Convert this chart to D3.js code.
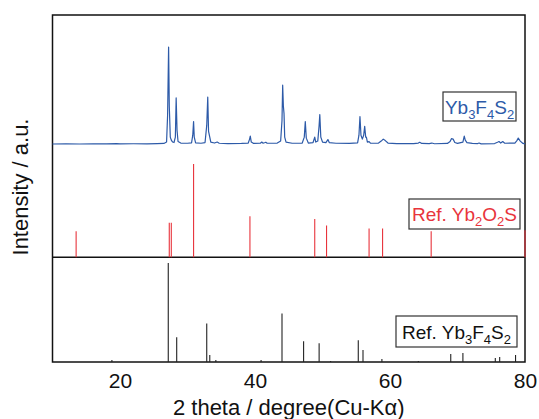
<!DOCTYPE html>
<html>
<head>
<meta charset="utf-8">
<script src="https://cdn.jsdelivr.net/npm/d3@7"></script>
<style>
    body { margin: 0; background: #fff; }
    svg { display: block; font-family: "Liberation Sans", Arial, sans-serif; }
</style>
</head>
<body>
<div id="chart"></div>
<script>
// measured pattern, [2theta, relative intensity]
const yb3f4s2Obs = [
    [10.0, 1.0], [12.0, 1.2], [14.0, 1.0], [16.0, 1.3], [18.0, 1.1], [19.5, 1.5], [20.0, 1.1],
    [22.0, 1.3], [24.0, 1.2], [25.5, 1.4], [26.5, 1.6], [26.9, 3], [27.05, 30], [27.2, 100],
    [27.3, 40], [27.45, 8], [27.6, 5], [27.8, 3], [28.0, 2.5], [28.2, 8], [28.32, 48], [28.45, 15],
    [28.6, 3.5], [29.0, 2], [30.0, 1.8], [30.6, 2.2], [30.78, 10], [30.9, 24], [31.0, 8], [31.2, 2.2],
    [32.0, 1.8], [32.6, 2.5], [32.85, 20], [33.0, 49], [33.12, 14], [33.3, 8], [33.45, 3], [34.0, 2],
    [34.4, 3], [34.7, 1.8], [36.0, 1.5], [38.0, 1.6], [39.0, 2], [39.2, 6], [39.3, 9], [39.45, 3],
    [39.8, 1.6], [40.8, 1.8], [41.0, 3], [41.2, 1.8], [41.5, 2.5], [41.6, 2.8], [41.8, 1.8],
    [43.3, 2], [43.8, 4], [44.0, 25], [44.1, 61], [44.2, 40], [44.3, 32], [44.4, 8], [44.6, 3],
    [45.5, 1.8], [47.0, 2], [47.3, 8], [47.45, 24], [47.6, 7], [47.9, 2], [48.6, 2.5], [48.85, 8],
    [49.0, 3], [49.3, 4], [49.5, 20], [49.6, 31], [49.75, 8], [50.0, 3], [50.5, 2.5], [50.8, 5.5],
    [51.0, 2.5], [52.0, 1.8], [54.0, 1.6], [55.2, 2.2], [55.4, 10], [55.55, 29], [55.7, 10],
    [55.9, 6], [56.1, 10], [56.25, 19], [56.4, 8], [56.5, 8], [56.65, 3], [56.9, 3.5], [57.1, 1.8],
    [58.3, 2], [58.7, 4], [59.0, 6], [59.3, 4.5], [59.7, 2], [61.0, 1.5], [63.5, 1.5], [64.2, 2],
    [64.4, 2.8], [64.7, 1.6], [65.8, 1.4], [66.2, 2], [66.6, 1.3], [68.5, 1.6], [68.9, 3.5],
    [69.1, 6.5], [69.35, 6], [69.6, 2.5], [70.0, 1.6], [70.8, 3], [71.0, 9], [71.15, 5], [71.4, 2.5],
    [72.2, 1.6], [73.0, 1.5], [73.2, 2], [73.5, 1.2], [75.5, 1.5], [76.0, 3], [76.15, 3.5],
    [76.4, 2], [76.7, 3.5], [77.0, 1.8], [78.5, 2], [78.8, 4.5], [79.0, 7], [79.3, 4], [79.7, 1.6],
    [80.0, 1.2]
];

// reference Yb2O2S card
const yb2o2sPos = [13.5, 27.3, 27.6, 30.9, 39.25, 48.85, 50.6, 56.9, 58.9, 66.1, 80.0];
const yb2o2sInt = [28, 37, 37, 100, 44, 41, 34, 31, 31, 28, 29];

// reference Yb3F4S2 card
const yb3f4s2Pos = [18.8, 27.15, 28.4, 32.85, 33.3, 34.2, 40.9, 44.0, 47.2, 49.5, 51.2,
    55.3, 56.0, 58.8, 64.2, 69.0, 70.8, 75.6, 76.25, 78.6];
const yb3f4s2Int = [2, 100, 25, 39, 7, 2, 2, 49, 21, 19, 1, 22, 12, 3, 1, 8, 9, 4, 5, 7];

const xTicks = [20, 40, 60, 80];

const width = 539, height = 419;
const plotL = 52.5, plotR = 525, plotT = 15, plotB = 362;
const midBase = 257.3;

const svg = d3.select('#chart').append('svg')
    .attr('width', width)
    .attr('height', height);

const x = d3.scaleLinear().domain([10, 80]).range([plotL, plotR]);
const yTop = d3.scaleLinear().domain([0, 100]).range([145, 47]);
const yMid = d3.scaleLinear().domain([0, 100]).range([midBase, 164]);
const yBot = d3.scaleLinear().domain([0, 100]).range([plotB, 263]);

// frame + middle baseline
svg.append('rect')
    .attr('x', plotL).attr('y', plotT)
    .attr('width', plotR - plotL).attr('height', plotB - plotT)
    .attr('fill', 'none').attr('stroke', '#111').attr('stroke-width', 1.5);
svg.append('line')
    .attr('x1', plotL).attr('x2', plotR)
    .attr('y1', midBase).attr('y2', midBase)
    .attr('stroke', '#111').attr('stroke-width', 1.5);

// observed pattern
svg.append('path')
    .datum(yb3f4s2Obs)
    .attr('fill', 'none')
    .attr('stroke', '#2d5aa8')
    .attr('stroke-width', 1.2)
    .attr('stroke-linejoin', 'round')
    .attr('d', d3.line().x(d => x(d[0])).y(d => yTop(d[1])));

// stick patterns
function sticks(pos, vals, yScale, color) {
    svg.append('g').selectAll('line')
        .data(pos)
        .join('line')
        .attr('x1', d => x(d))
        .attr('x2', d => x(d))
        .attr('y1', yScale(0))
        .attr('y2', (d, i) => yScale(vals[i]))
        .attr('stroke', color)
        .attr('stroke-width', 1.1);
}
sticks(yb2o2sPos, yb2o2sInt, yMid, '#e8343c');
sticks(yb3f4s2Pos, yb3f4s2Int, yBot, '#222');

// x axis
const xAxis = svg.append('g')
    .attr('transform', `translate(0, ${plotB})`)
    .call(d3.axisBottom(x).tickValues(xTicks).tickSize(0).tickPadding(11));
xAxis.select('.domain').remove();
xAxis.selectAll('text')
    .style('font-family', '"Liberation Sans", Arial, sans-serif')
    .style('font-size', '21px')
    .style('fill', '#111');

svg.append('text')
    .attr('x', (plotL + plotR) / 2)
    .attr('y', 415)
    .attr('text-anchor', 'middle')
    .style('font-size', '22px')
    .style('fill', '#111')
    .text('2 theta / degree(Cu-Kα)');

svg.append('text')
    .attr('transform', 'translate(28, 187) rotate(-90)')
    .attr('text-anchor', 'middle')
    .style('font-size', '22px')
    .style('fill', '#111')
    .text('Intensity / a.u.');

// labelled boxes with subscripts
function label(parts, bx, by, bw, bh, color) {
    svg.append('rect')
        .attr('x', bx).attr('y', by).attr('width', bw).attr('height', bh)
        .attr('fill', '#fff').attr('stroke', '#333').attr('stroke-width', 1.2);
    const t = svg.append('text')
        .attr('x', bx + bw / 2)
        .attr('y', by + bh / 2 + 7)
        .attr('text-anchor', 'middle')
        .style('font-size', '19px')
        .style('fill', color);
    let sub = false;
    parts.forEach(p => {
        const isSub = /^\d$/.test(p);
        t.append('tspan')
            .attr('dy', isSub ? 5 : (sub ? -5 : 0))
            .style('font-size', isSub ? '13px' : '19px')
            .text(p);
        sub = isSub;
    });
}
label(['Yb', '3', 'F', '4', 'S', '2'], 443, 92, 73, 29, '#2d5aa8');
label(['Ref. Yb', '2', 'O', '2', 'S'], 409, 199, 111, 30, '#e8343c');
label(['Ref. Yb', '3', 'F', '4', 'S', '2'], 396, 316, 121, 31, '#111');
</script>
</body>
</html>
